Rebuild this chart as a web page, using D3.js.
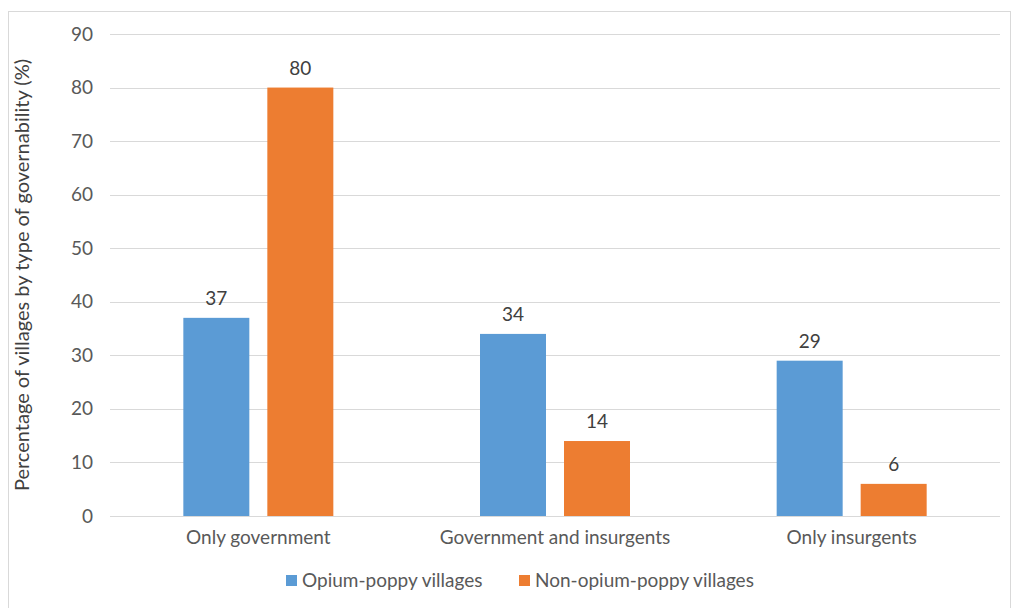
<!DOCTYPE html>
<html><head><meta charset="utf-8">
<script src="https://cdn.jsdelivr.net/npm/d3@7"></script>
<style>body{margin:0;background:#fff;} svg{display:block;font-family:Lato,"Open Sans",sans-serif;}</style>
</head><body><svg id="c" width="1012" height="608"></svg>
<script>
const categories = ["Only government", "Government and insurgents", "Only insurgents"];
const seriesNames = ["Opium-poppy villages", "Non-opium-poppy villages"];
const opiumValues = [37, 34, 29];
const nonOpiumValues = [80, 14, 6];
const yTicks = [0, 10, 20, 30, 40, 50, 60, 70, 80, 90];
const colors = ["#5B9BD5", "#ED7D31"];
const FS = "19px";

const svg = d3.select("#c");
svg.append("rect").attr("x", 8.5).attr("y", 11.5).attr("width", 1002).attr("height", 600)
  .attr("fill", "#fff").attr("stroke", "#d9d9d9");

const x0 = d3.scaleBand().domain(categories).range([110, 1000]);
const y = d3.scaleLinear().domain([0, 90]).range([516, 34]);
const series = [opiumValues, nonOpiumValues];
const barW = 66, gap = 18;

// gridlines
svg.append("g").selectAll("line").data(yTicks).join("line")
  .attr("x1", 110).attr("x2", 1000)
  .attr("y1", d => Math.round(y(d)) + 0.5).attr("y2", d => Math.round(y(d)) + 0.5)
  .attr("stroke", "#d9d9d9").attr("stroke-width", 1);

// y axis labels
const yAxis = d3.axisLeft(y).tickValues(yTicks).tickSize(0).tickPadding(0);
const ga = svg.append("g").attr("transform", "translate(93,0)").call(yAxis);
ga.select(".domain").remove();
ga.selectAll("text").attr("fill", "#595959").style("font-size", FS).style("font-family", "Lato, 'Open Sans', sans-serif");

// x axis labels
const xAxis = d3.axisBottom(x0).tickSize(0).tickPadding(0);
const gx = svg.append("g").attr("transform", "translate(0,530)").call(xAxis);
gx.select(".domain").remove();
gx.selectAll("text").attr("fill", "#595959").style("font-size", FS).style("font-family", "Lato, 'Open Sans', sans-serif");

// bars
series.forEach((vals, si) => {
  const offset = si === 0 ? -(gap / 2 + barW) : gap / 2;
  const g = svg.append("g");
  g.selectAll("rect").data(vals).join("rect")
    .attr("x", (d, i) => x0(categories[i]) + x0.bandwidth() / 2 + offset)
    .attr("y", d => y(d))
    .attr("width", barW)
    .attr("height", d => y(0) - y(d))
    .attr("fill", colors[si]);
  g.selectAll("text").data(vals).join("text")
    .attr("x", (d, i) => x0(categories[i]) + x0.bandwidth() / 2 + offset + barW / 2)
    .attr("y", d => y(d) - 13)
    .attr("text-anchor", "middle")
    .attr("fill", "#404040")
    .style("font-size", FS)
    .text(d => d);
});

// y title
svg.append("text")
  .attr("transform", "translate(29,275) rotate(-90)")
  .attr("text-anchor", "middle")
  .attr("fill", "#404040")
  .style("font-size", "20px")
  .text("Percentage of villages by type of governability (%)");

// legend
const legendX = [286, 519];
seriesNames.forEach((n, i) => {
  svg.append("rect").attr("x", legendX[i]).attr("y", 575).attr("width", 11).attr("height", 11).attr("fill", colors[i]);
  svg.append("text").attr("x", legendX[i] + 16).attr("y", 587)
    .attr("fill", "#595959").style("font-size", FS).text(n);
});
</script></body></html>
